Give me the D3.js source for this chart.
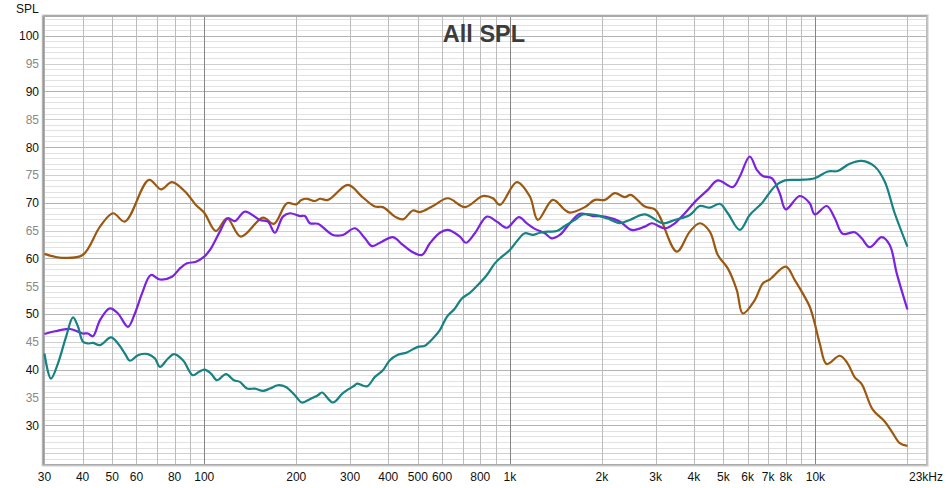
<!DOCTYPE html>
<html><head><meta charset="utf-8">
<script src="https://cdn.jsdelivr.net/npm/d3@7/dist/d3.min.js"></script>
<style>body{margin:0;background:#fff;}svg{display:block;font-family:"Liberation Sans",Arial,sans-serif;}</style>
</head><body><svg id="c" width="948" height="488"></svg>
<script>
const title = "All SPL";
const yAxisLabel = "SPL";
const xTickValues = [30,40,50,60,80,100,200,300,400,500,600,800,1000,2000,3000,4000,5000,6000,7000,8000,10000];
const xTickLabels = ["30","40","50","60","80","100","200","300","400","500","600","800","1k","2k","3k","4k","5k","6k","7k","8k","10k"];
const xEndLabel = "23kHz";
const yTickValues = [30,35,40,45,50,55,60,65,70,75,80,85,90,95,100];

const brownFreq = [30,34.2,40,45.6,50.3,55,65.9,72.2,78.4,86.5,93.9,100,109.2,118.7,131.8,155.6,169,186.5,200,208,216.8,230.2,239,254,295.2,328,361.8,384.3,420.6,446.7,481.6,507.8,559.9,627,712.5,816,880,928,1054,1163,1235,1382,1513,1571,1759,1897,2046,2206,2378,2488,2765,2981,3095,3518,3880,4183,4511,4791,5166,5528,5783,6332,6725,7088,7994,8557,9087,9579,9947,10330,10890,12010,12750,13450,14170,15400,16850,17900,18870,20000];
const brownSPL = [60.8,60.1,60.6,65.7,68.1,66.6,74.1,72.4,73.7,72.0,69.6,68.2,64.9,67.2,63.9,67.3,66.2,69.9,69.7,70.5,70.7,70.3,70.7,70.5,73.2,71.1,69.3,69.2,67.5,67.0,68.6,68.3,69.4,70.8,69.2,71.2,70.8,69.6,73.7,71.1,66.9,70.5,68.7,68.2,69.2,70.5,70.5,71.7,71.0,71.4,69.3,68.8,67.5,61.2,64.8,66.3,64.8,60.6,58.2,54.3,50.1,52.5,55.5,56.2,58.5,56.1,53.7,51.3,48.3,44.7,41.0,42.5,41.1,38.6,37.4,32.8,30.7,28.6,26.8,26.3];

const purpleFreq = [30,32.5,36.4,40,41.6,43.2,45.6,49.1,52.2,56.3,59.3,62.6,66.9,71.6,78.4,83.3,87.8,93.9,100,104.4,112.5,119.5,126,135.9,152.1,161.6,170.3,180.9,190.7,205.6,213.5,221.7,235.5,263.6,284.3,311.2,335.6,353.7,381.4,414.3,446.7,478,515.5,547.4,590.2,627,686.3,717.9,768.2,841,907,977.7,1070,1137,1207,1302,1372,1457,1571,1694,1868,2046,2290,2507,2765,2914,3214,3465,3737,4090,4443,4791,5364,5654,6096,6428,6725,7196,7641,7994,8884,9579,9947,10890,11570,12280,13450,14170,15050,16480,17500,18450,20000];
const purpleSPL = [46.4,46.9,47.3,46.5,46.5,46.0,48.9,51.0,50.1,47.7,50.1,53.7,57.0,56.2,56.7,58.2,59.1,59.4,60.3,61.5,64.8,67.2,66.7,68.4,66.9,66.6,64.6,67.5,68.1,67.6,67.6,66.3,66.2,64.2,64.2,65.4,63.6,62.2,63.0,63.8,62.4,61.2,60.6,62.7,64.6,65.1,63.9,62.8,64.5,67.5,66.6,65.5,67.4,66.3,65.3,64.5,63.6,64.2,66.3,68.0,67.6,67.5,66.6,65.1,65.7,66.3,65.4,66.3,68.1,70.5,72.3,74.0,72.8,74.7,78.3,75.9,74.8,74.4,71.7,68.8,71.2,69.9,67.9,69.4,67.2,64.4,64.7,63.6,62.0,63.8,62.4,57.3,50.8];

const tealFreq = [30,31.5,33.2,35.3,37.2,38.6,40.1,41.6,43.2,45.6,49.5,52.2,55,57.1,60.7,65.4,69,71.6,76.1,79.6,85.2,91.8,96.1,100,105.2,110,117.8,125.1,130.8,138,146.5,155.6,164,174.2,185,198,208.7,221.7,235.5,242.7,263.6,284.3,311.2,316,340.6,361.8,384.3,405,427,460.3,500.2,527.2,559.9,590.2,622.3,661,696.6,739.9,785.8,841,893,941.5,1000,1062,1120,1189,1253,1331,1424,1513,1632,1733,1897,2124,2290,2469,2765,3166,3465,3880,4183,4511,4864,5166,5654,6096,6675,7360,7935,8884,9947,10970,11830,12950,14170,15630,16850,18170,20000];
const tealSPL = [42.9,38.4,41.1,45.9,49.4,47.8,45.0,44.7,44.8,44.4,45.8,44.7,42.9,41.6,42.6,42.8,42.0,40.5,42.0,42.8,41.7,39.0,39.6,40.0,39.3,38.1,39.2,38.1,37.8,36.6,36.6,36.2,36.6,37.2,36.9,35.4,34.1,34.7,35.4,35.9,34.1,35.8,37.2,37.5,37.0,38.7,39.9,41.7,42.6,43.1,44.1,44.3,45.6,47.1,49.5,51.0,52.8,53.8,55.2,57.0,59.1,60.3,61.5,63.3,64.5,64.2,64.6,64.8,64.9,65.8,66.9,67.9,67.8,67.0,66.3,66.9,67.9,66.3,66.9,67.8,69.4,69.1,69.8,68.1,65.1,67.8,69.9,72.9,74.0,74.1,74.4,75.6,75.7,77.0,77.5,76.5,73.8,68.1,62.1];

const series = [
  {name:"brown", f:brownFreq, v:brownSPL, color:"#9a5810"},
  {name:"purple", f:purpleFreq, v:purpleSPL, color:"#7a22e0"},
  {name:"teal", f:tealFreq, v:tealSPL, color:"#168282"}
];

const L=44.45, R=926, T=17, B=464;
const svg = d3.select("#c");
const x = d3.scaleLog().domain([30,23000]).range([L,R]);
const y = d3.scaleLinear().domain([23.05,103.36]).range([B,T]);

// frame shadow
svg.append("rect").attr("x",L-3).attr("y",T-3).attr("width",R-L+6).attr("height",B-T+6).attr("fill","#e4e4e4");
svg.append("rect").attr("x",L-2).attr("y",T-2).attr("width",R-L+4).attr("height",B-T+4).attr("fill","#c4c4c4");
svg.append("rect").attr("x",L).attr("y",T).attr("width",R-L).attr("height",B-T).attr("fill","#fff");

const g = svg.append("g");
for (let v=24; v<=103; v++) {
  let c = v%10===0 ? "#b4b4b4" : (v%5===0 ? "#cfcfcf" : "#e2e2e2");
  g.append("line").attr("x1",L).attr("x2",R).attr("y1",Math.round(y(v))+0.5).attr("y2",Math.round(y(v))+0.5).attr("stroke",c).attr("stroke-width",1);
}
const vlines = [];
[10,100,1000,10000].forEach(d=>{for(let k=1;k<10;k++){const f=d*k; if(f>=30 && f<=23000) vlines.push(f);}});
vlines.forEach(f=>{
  const major = [100,1000,10000].includes(f);
  g.append("line").attr("x1",Math.round(x(f))+0.5).attr("x2",Math.round(x(f))+0.5).attr("y1",T).attr("y2",B)
    .attr("stroke", major?"#858585":"#bcbcbc").attr("stroke-width",1);
});
svg.append("line").attr("x1",L-1).attr("x2",L-1).attr("y1",T-1).attr("y2",B+1).attr("stroke","#999").attr("stroke-width",2);
svg.append("line").attr("x1",L-1).attr("x2",R+1).attr("y1",T-1).attr("y2",T-1).attr("stroke","#aaa").attr("stroke-width",2);
svg.append("line").attr("x1",L-1).attr("x2",R+1).attr("y1",B+0.5).attr("y2",B+0.5).attr("stroke","#aaa").attr("stroke-width",1);
svg.append("line").attr("x1",R+0.5).attr("x2",R+0.5).attr("y1",T-1).attr("y2",B+1).attr("stroke","#bbb").attr("stroke-width",1);

const line = d3.line().x(d=>x(d[0])).y(d=>y(d[1])).curve(d3.curveCatmullRom.alpha(0.5));
series.forEach(s=>{
  const pts = s.f.map((f,i)=>[f,s.v[i]]);
  svg.append("path").attr("d",line(pts)).attr("fill","none").attr("stroke",s.color).attr("stroke-width",2.2).attr("stroke-linejoin","round");
});

yTickValues.forEach(v=>{
  svg.append("text").attr("x",39).attr("y",y(v)+4.5).attr("text-anchor","end").attr("font-size",12)
    .attr("fill", v%10===0 ? "#111" : "#8a8a8a").text(v);
});
svg.append("text").attr("x",16).attr("y",13).attr("font-size",12).attr("fill","#111").text(yAxisLabel);
xTickValues.forEach((f,i)=>{
  svg.append("text").attr("x",x(f)).attr("y",481).attr("text-anchor","middle").attr("font-size",12).attr("fill","#111").text(xTickLabels[i]);
});
svg.append("text").attr("x",R).attr("y",481).attr("text-anchor","middle").attr("font-size",12).attr("fill","#111").text(xEndLabel);
svg.append("text").attr("x",484).attr("y",42).attr("text-anchor","middle").attr("font-size",23.5).attr("font-weight","bold").attr("fill","#3c3c3c").text(title);
</script></body></html>
